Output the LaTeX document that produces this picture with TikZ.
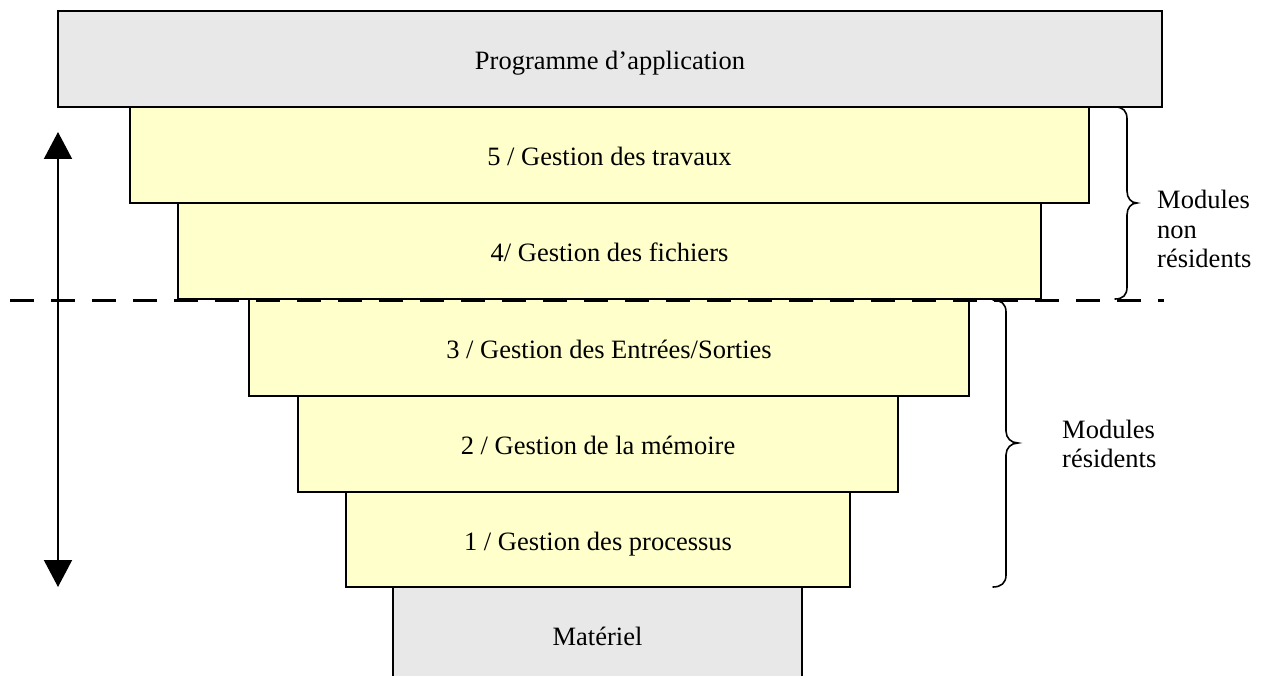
\documentclass[tikz,border=0pt]{standalone}
\usepackage{fontspec}
\setmainfont{Liberation Serif}
\usetikzlibrary{arrows.meta}
\definecolor{layergrey}{RGB}{232,232,232}
\definecolor{layeryellow}{RGB}{255,255,204}
\tikzset{
  layer/.style={draw=black, line width=1.5pt, inner sep=0pt, outer sep=0pt,
    text height=26pt, text depth=5pt,
    font=\fontsize{26.5}{29.5}\selectfont},
  hwlayer/.style={layer, fill=layergrey},
  oslayer/.style={layer, fill=layeryellow},
  bracket/.style={draw=black, line width=1.6pt, line cap=round},
  sidelabel/.style={align=left, inner sep=0pt, anchor=west,
    font=\fontsize{26.5}{29.5}\selectfont},
  boundary/.style={draw=black, line width=3pt, dash pattern=on 24pt off 17pt},
  levels/.style={draw=black, line width=2pt,
    {Triangle[width=28pt,length=27pt]}-{Triangle[width=28pt,length=27pt]}}
}
\begin{document}
\begin{tikzpicture}[x=1pt, y=-1pt]
  \useasboundingbox (0,0) rectangle (1268,676);
  \clip (0,0) rectangle (1268,676);

  % layers of the system, from the application down to the hardware
  \node[hwlayer, minimum width=1104pt, minimum height=96pt] (app) at (610,59)
    {Programme d’application};
  \node[oslayer, minimum width=959pt, minimum height=96pt] (m5) at (609.5,155)
    {5 / Gestion des travaux};
  \node[oslayer, minimum width=863pt, minimum height=96pt] (m4) at (609.5,251)
    {4/ Gestion des fichiers};
  \node[oslayer, minimum width=720pt, minimum height=97pt] (m3) at (609,347.5)
    {3 / Gestion des Entrées/Sorties};
  \node[oslayer, minimum width=600pt, minimum height=96pt] (m2) at (598,444)
    {2 / Gestion de la mémoire};
  \node[oslayer, minimum width=504pt, minimum height=95pt] (m1) at (598,539.5)
    {1 / Gestion des processus};
  \node[hwlayer, minimum width=409pt, minimum height=96pt] (hw) at (597.5,635)
    {Matériel};

  % separation between resident and non-resident modules
  \coordinate (cutL) at (10,300);
  \coordinate (cutR) at (1164,300);
  \draw[boundary] (cutL) -- (cutR);

  % double arrow along the left side
  \coordinate (arrTop) at (58,132);
  \coordinate (arrBot) at (58,587);
  \draw[levels] (arrTop) -- (arrBot);

  % brace for the non-resident modules
  \draw[bracket] (1115,107) .. controls (1123,107) and (1127,111) .. (1127,119)
    -- (1127,191) .. controls (1127,198) and (1131,203) .. (1137,203)
    .. controls (1131,203) and (1127,208) .. (1127,215)
    -- (1127,287) .. controls (1127,295) and (1123,299) .. (1115,299);
  \node[sidelabel] (nonres) at (1157,229) {Modules\\non\\résidents};

  % brace for the resident modules
  \draw[bracket] (993,300) .. controls (1001,300) and (1006,304) .. (1006,312)
    -- (1006,431) .. controls (1006,438) and (1011,443) .. (1018,443)
    .. controls (1011,443) and (1006,448) .. (1006,455)
    -- (1006,575) .. controls (1006,583) and (1001,587) .. (993,587);
  \node[sidelabel] (res) at (1062,444) {Modules\\résidents};
\end{tikzpicture}
\end{document}
